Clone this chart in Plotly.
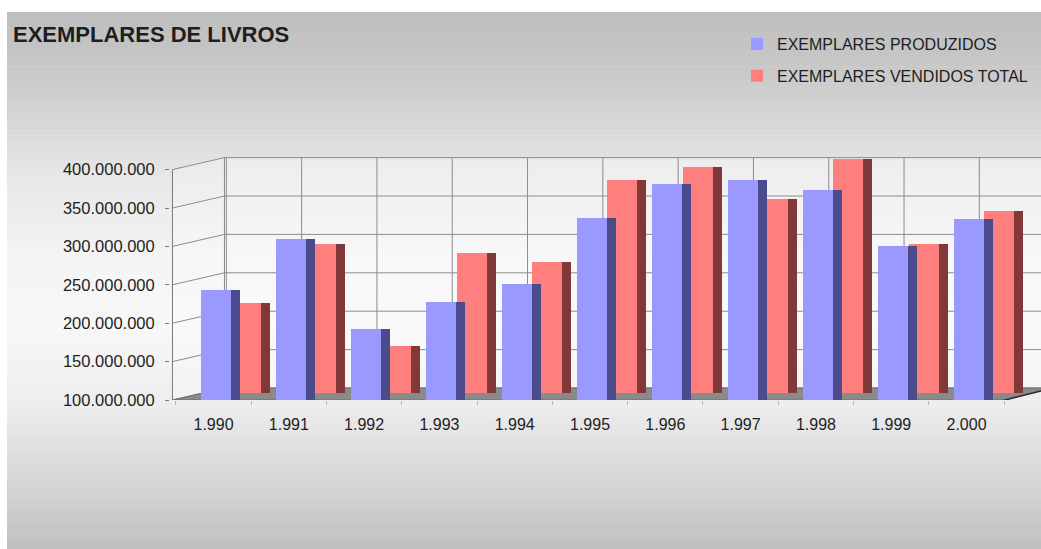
import numpy as np
import plotly.graph_objects as go

# ---------------- data ----------------
YEARS = [1990, 1991, 1992, 1993, 1994, 1995, 1996, 1997, 1998, 1999, 2000]
YEAR_LABELS = [f"{y:,}".replace(",", ".") for y in YEARS]
PRODUZIDOS = [243e6, 309e6, 193e6, 227e6, 251e6, 337e6, 381e6, 386e6, 374e6, 301e6, 336e6]
VENDIDOS = [217e6, 294e6, 161e6, 282e6, 270e6, 378e6, 394e6, 352e6, 405e6, 294e6, 337e6]
Y_TICKS = [100e6, 150e6, 200e6, 250e6, 300e6, 350e6, 400e6]
SERIES_NAMES = ["EXEMPLARES PRODUZIDOS", "EXEMPLARES VENDIDOS TOTAL"]
TITLE = "EXEMPLARES DE LIVROS"

# ---------------- layout geometry (pixels) ----------------
W, H = 1041, 549
PLOT_L, PLOT_R, PLOT_T, PLOT_B = 170, 1041, 140, 400
CAT_PX = 75.3          # pixels per category
C0_PX = 213.5          # pixel centre of first category
VAL_PX = 0.768e-6      # pixels per unit of value
BASE = Y_TICKS[0]

x_range = [(PLOT_L - C0_PX) / CAT_PX, (PLOT_R - C0_PX) / CAT_PX]
y_range = [BASE, BASE + (PLOT_B - PLOT_T) / VAL_PX]

# depth of the 3D box (back wall offset) in data units
DX = 52 / CAT_PX
DY = 12 / VAL_PX
F_RED = 7 / 12                    # relative depth of the second series
FX = -0.5 - 0.045                 # front-left edge of the box
FX_R = 10.5 - 0.045               # front-right edge of the floor

FRONT_OFF = -13 / CAT_PX
FRONT_W = 30 / CAT_PX
SIDE_W = 9 / CAT_PX

BLUE, BLUE_SIDE = "#9999ff", "#4b4b8c"
RED, RED_SIDE = "#ff7f7f", "#813838"
GRID = "#8c8c8c"
TEXT = "#1e1e1e"
FONT = "Liberation Sans, Arial, sans-serif"


def pxx(px):
    return (px - PLOT_L) / (PLOT_R - PLOT_L)


def pxy(py):
    return (PLOT_B - py) / (PLOT_B - PLOT_T)


x = np.arange(len(YEARS))
prod = np.array(PRODUZIDOS)
vend = np.array(VENDIDOS)

fig = go.Figure()

# second series (further back)
red_base = BASE + F_RED * DY
red_off = FRONT_OFF + F_RED * DX
fig.add_trace(go.Bar(x=x, y=vend - BASE, base=red_base, offset=red_off + FRONT_W,
                     width=SIDE_W, marker=dict(color=RED_SIDE, line=dict(width=0)),
                     showlegend=False, hoverinfo="skip", legendgroup="b"))
fig.add_trace(go.Bar(x=x, y=vend - BASE, base=red_base, offset=red_off,
                     width=FRONT_W, marker=dict(color=RED, line=dict(width=0)),
                     name=SERIES_NAMES[1], legendrank=2, legendgroup="b"))
# first series (front)
fig.add_trace(go.Bar(x=x, y=prod - BASE, base=BASE, offset=FRONT_OFF + FRONT_W,
                     width=SIDE_W, marker=dict(color=BLUE_SIDE, line=dict(width=0)),
                     showlegend=False, hoverinfo="skip", legendgroup="a"))
fig.add_trace(go.Bar(x=x, y=prod - BASE, base=BASE, offset=FRONT_OFF,
                     width=FRONT_W, marker=dict(color=BLUE, line=dict(width=0)),
                     name=SERIES_NAMES[0], legendrank=1, legendgroup="a"))

shapes = []

# background vertical gradient
stops = [(12, 190), (60, 198), (120, 214), (180, 232), (260, 244), (330, 247),
         (400, 238), (450, 224), (549, 192)]
sy = [s[0] for s in stops]
sg = [s[1] for s in stops]
edges = np.linspace(12, H, 110)
for a, b in zip(edges[:-1], edges[1:]):
    g = int(round(np.interp((a + b) / 2, sy, sg)))
    shapes.append(dict(type="rect", xref="paper", yref="paper",
                       x0=pxx(7), x1=pxx(W + 2), y0=pxy(b + 0.6), y1=pxy(a),
                       fillcolor=f"rgb({g},{g},{g})", line=dict(width=0), layer="below"))

# back wall light fill
top = Y_TICKS[-1]
shapes.append(dict(type="path", xref="x", yref="y", layer="below",
                   path=f"M {FX + DX},{BASE + DY} L {x_range[1] + 1},{BASE + DY} "
                        f"L {x_range[1] + 1},{top + DY} L {FX + DX},{top + DY} Z",
                   fillcolor="rgba(255,255,255,0.35)", line=dict(width=0)))
# side wall light fill
shapes.append(dict(type="path", xref="x", yref="y", layer="below",
                   path=f"M {FX},{BASE} L {FX + DX},{BASE + DY} L {FX + DX},{top + DY} L {FX},{top} Z",
                   fillcolor="rgba(255,255,255,0.25)", line=dict(width=0)))

# back wall horizontal grid + side wall diagonals
for v in Y_TICKS:
    shapes.append(dict(type="line", xref="x", yref="y", layer="below",
                       x0=FX + DX, x1=x_range[1] + 1, y0=v + DY, y1=v + DY,
                       line=dict(color=GRID, width=1)))
    shapes.append(dict(type="line", xref="x", yref="y", layer="below",
                       x0=FX, x1=FX + DX, y0=v, y1=v + DY,
                       line=dict(color=GRID, width=1)))
# back wall vertical grid
for k in range(len(YEARS) + 1):
    xv = k - 0.5 + DX - 0.02
    shapes.append(dict(type="line", xref="x", yref="y", layer="below",
                       x0=xv, x1=xv, y0=BASE + DY, y1=top + DY,
                       line=dict(color=GRID, width=1)))
# back wall left edge
shapes.append(dict(type="line", xref="x", yref="y", layer="below",
                   x0=FX + DX, x1=FX + DX, y0=BASE + DY, y1=top + DY,
                   line=dict(color=GRID, width=1)))
# floor
shapes.append(dict(type="path", xref="x", yref="y", layer="below",
                   path=f"M {FX},{BASE} L {FX_R},{BASE} L {FX_R + DX},{BASE + DY} "
                        f"L {FX + DX},{BASE + DY} Z",
                   fillcolor="#8a8a8a", line=dict(color="#6e6e6e", width=1)))
# front axis line
shapes.append(dict(type="line", xref="x", yref="y", layer="below",
                   x0=FX, x1=FX, y0=BASE, y1=top,
                   line=dict(color="#7a7a7a", width=1)))
# right front floor edge
shapes.append(dict(type="line", xref="x", yref="y", layer="above",
                   x0=FX_R, x1=FX_R + DX, y0=BASE - 1.5e6, y1=BASE + DY,
                   line=dict(color="#2a2a2a", width=1.5)))

fig.update_layout(
    width=W, height=H,
    margin=dict(l=PLOT_L, r=W - PLOT_R, t=PLOT_T, b=H - PLOT_B, autoexpand=False),
    paper_bgcolor="white", plot_bgcolor="rgba(0,0,0,0)",
    barmode="overlay", bargap=0,
    separators=",.",
    font=dict(family=FONT, size=16, color=TEXT),
    shapes=shapes,
    title=dict(text=f"<b>{TITLE}</b>", xref="container", yref="container",
               x=13 / W, xanchor="left", y=1 - 34 / H, yanchor="middle",
               font=dict(family=FONT, size=22, color=TEXT)),
    legend=dict(xref="container", yref="container", x=737 / W, y=1 - 27 / H,
                xanchor="left", yanchor="top", bgcolor="rgba(0,0,0,0)",
                font=dict(family=FONT, size=16, color=TEXT), itemwidth=30,
                traceorder="grouped", tracegroupgap=8),
    xaxis=dict(range=x_range, tickmode="array", tickvals=list(x), ticktext=YEAR_LABELS,
               showgrid=False, zeroline=False, showline=False, ticks="",
               ticklabelstandoff=13,
               minor=dict(tickmode="array", tickvals=[k - 0.5 for k in range(len(YEARS) + 1)],
                          ticks="outside", ticklen=4, tickcolor="#b5b5b5")),
    yaxis=dict(range=y_range, tickmode="array", tickvals=Y_TICKS, tickformat=",d",
               showgrid=False, zeroline=False, showline=False,
               ticks="outside", ticklen=4, tickcolor="#7a7a7a",
               ticklabelstandoff=7, tickfont=dict(size=16.5)),
    hovermode=False,
)

fig.write_html("out.html")
